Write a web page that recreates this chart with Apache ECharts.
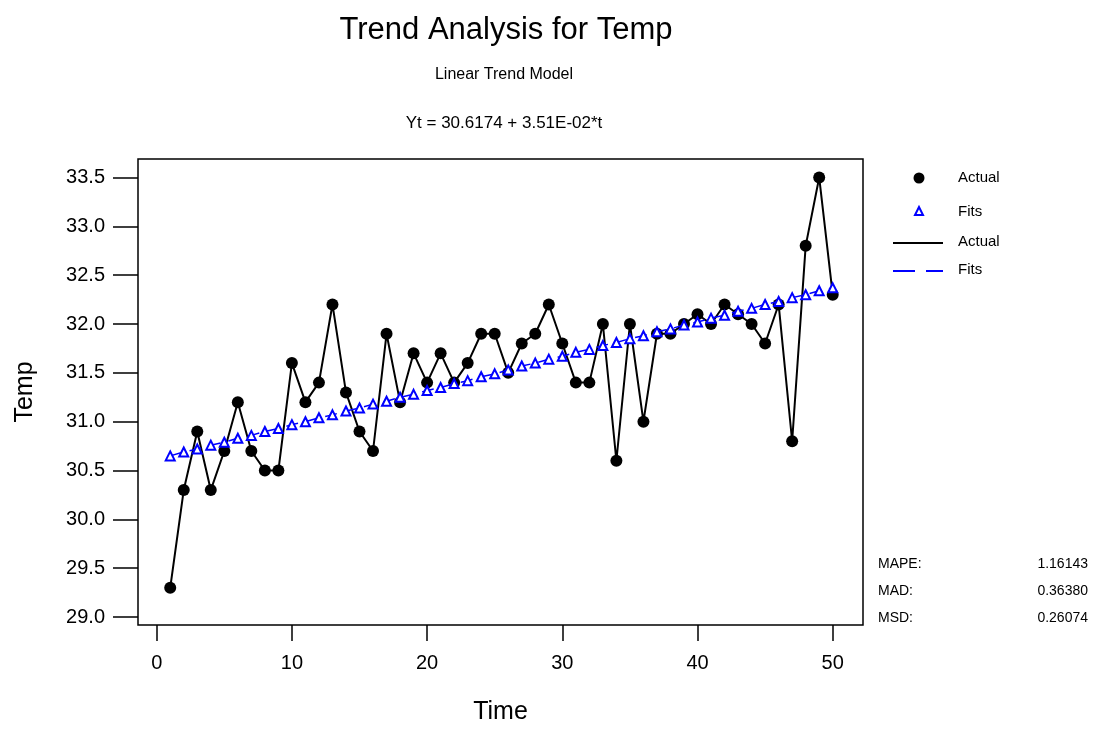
<!DOCTYPE html>
<html>
<head>
<meta charset="utf-8">
<script src="https://cdn.jsdelivr.net/npm/echarts@6/dist/echarts.min.js"></script>
<style>
  html, body { margin: 0; background: #ffffff; }
  #chart { width: 1093px; height: 730px; }
</style>
</head>
<body>
<div id="chart"></div>
<script>
const timeIdx = [1, 2, 3, 4, 5, 6, 7, 8, 9, 10, 11, 12, 13, 14, 15, 16, 17, 18, 19, 20,
  21, 22, 23, 24, 25, 26, 27, 28, 29, 30, 31, 32, 33, 34, 35, 36, 37, 38, 39, 40,
  41, 42, 43, 44, 45, 46, 47, 48, 49, 50]
const actualTemp = [29.3, 30.3, 30.9, 30.3, 30.7, 31.2, 30.7, 30.5, 30.5, 31.6,
  31.2, 31.4, 32.2, 31.3, 30.9, 30.7, 31.9, 31.2, 31.7, 31.4,
  31.7, 31.4, 31.6, 31.9, 31.9, 31.5, 31.8, 31.9, 32.2, 31.8,
  31.4, 31.4, 32.0, 30.6, 32.0, 31.0, 31.9, 31.9, 32.0, 32.1,
  32.0, 32.2, 32.1, 32.0, 31.8, 32.2, 30.8, 32.8, 33.5, 32.3]
const fitsTemp = [30.65, 30.69, 30.72, 30.76, 30.79, 30.83, 30.86, 30.90, 30.93, 30.97,
  31.00, 31.04, 31.07, 31.11, 31.14, 31.18, 31.21, 31.25, 31.28, 31.32,
  31.35, 31.39, 31.42, 31.46, 31.49, 31.53, 31.57, 31.60, 31.64, 31.67,
  31.71, 31.74, 31.78, 31.81, 31.85, 31.88, 31.92, 31.95, 31.99, 32.02,
  32.06, 32.09, 32.13, 32.16, 32.20, 32.23, 32.27, 32.30, 32.34, 32.37]
const xTicks = [0, 10, 20, 30, 40, 50]
const yTicks = [29.0, 29.5, 30.0, 30.5, 31.0, 31.5, 32.0, 32.5, 33.0, 33.5]
const accuracyNames = ['MAPE:', 'MAD:', 'MSD:']
const accuracyValues = ['1.16143', '0.36380', '0.26074']

const font = "'Liberation Sans Narrow', 'Liberation Sans', Arial, sans-serif"
const blue = '#0000ff'

const chart = echarts.init(document.getElementById('chart'))

// accuracy measures block, bottom right
const statText = []
accuracyNames.forEach((n, i) => {
  statText.push({
    type: 'text', left: 878, top: 557 + i * 27,
    style: { text: n, font: '14px ' + font, fill: '#000' }
  })
  statText.push({
    type: 'text', right: 5, top: 557 + i * 27,
    style: { text: accuracyValues[i], font: '14px ' + font, fill: '#000', textAlign: 'right' }
  })
})

chart.setOption({
  backgroundColor: '#ffffff',
  animation: false,
  title: [{
    text: 'Trend Analysis for Temp',
    left: 501, top: 10,
    textAlign: 'center',
    textStyle: { fontFamily: font, fontWeight: 'normal', fontSize: 31, color: '#000' }
  }, {
    text: 'Linear Trend Model',
    left: 499, top: 62,
    textAlign: 'center',
    textStyle: { fontFamily: font, fontWeight: 'normal', fontSize: 16, color: '#000' }
  }, {
    text: 'Yt = 30.6174 + 3.51E-02*t',
    left: 499, top: 110,
    textAlign: 'center',
    textStyle: { fontFamily: font, fontWeight: 'normal', fontSize: 17, color: '#000' }
  }],
  grid: {
    left: 138, right: 230, top: 159, bottom: 99,
    show: true,
    borderColor: '#000',
    borderWidth: 1.5
  },
  xAxis: {
    type: 'value',
    min: -1.383,
    max: 52.24,
    name: 'Time',
    nameLocation: 'middle',
    nameGap: 75,
    nameTextStyle: { fontFamily: font, fontSize: 25, color: '#000' },
    axisLine: { show: false, onZero: false },
    axisTick: { show: true, length: 16, customValues: xTicks, lineStyle: { color: '#000', width: 1.5 } },
    axisLabel: { customValues: xTicks, margin: 28, fontFamily: font, fontSize: 20, color: '#000' },
    splitLine: { show: false }
  },
  yAxis: {
    type: 'value',
    min: 28.919,
    max: 33.689,
    name: 'Temp',
    nameLocation: 'middle',
    nameGap: 100,
    nameTextStyle: { fontFamily: font, fontSize: 25, color: '#000' },
    axisLine: { show: false, onZero: false },
    axisTick: { show: true, length: 25, customValues: yTicks, lineStyle: { color: '#000', width: 1.5 } },
    axisLabel: {
      customValues: yTicks, margin: 33, fontFamily: font, fontSize: 20, color: '#000',
      formatter: v => v.toFixed(1)
    },
    splitLine: { show: false }
  },
  series: [{
    name: 'Fits',
    type: 'line',
    data: timeIdx.map((t, i) => [t, fitsTemp[i]]),
    symbol: 'triangle',
    symbolSize: 9,
    itemStyle: { color: '#ffffff', borderColor: blue, borderWidth: 2 },
    lineStyle: { color: blue, width: 1.5, type: [12, 8] },
    z: 3
  }, {
    name: 'Actual',
    type: 'line',
    data: timeIdx.map((t, i) => [t, actualTemp[i]]),
    symbol: 'circle',
    symbolSize: 12,
    itemStyle: { color: '#000' },
    lineStyle: { color: '#000', width: 2 },
    z: 2
  }],
  graphic: [
    { type: 'circle', shape: { cx: 919, cy: 178, r: 5.5 }, style: { fill: '#000' } },
    { type: 'polygon', shape: { points: [[919, 207], [915, 215], [923, 215]] }, style: { fill: '#fff', stroke: blue, lineWidth: 2 } },
    { type: 'line', shape: { x1: 893, y1: 243, x2: 943, y2: 243 }, style: { stroke: '#000', lineWidth: 2 } },
    { type: 'line', shape: { x1: 893, y1: 271, x2: 943, y2: 271 }, style: { stroke: blue, lineWidth: 2, lineDash: [22, 11] } },
    { type: 'text', left: 958, top: 170, style: { text: 'Actual', font: '15px ' + font, fill: '#000' } },
    { type: 'text', left: 958, top: 204, style: { text: 'Fits', font: '15px ' + font, fill: '#000' } },
    { type: 'text', left: 958, top: 234, style: { text: 'Actual', font: '15px ' + font, fill: '#000' } },
    { type: 'text', left: 958, top: 262, style: { text: 'Fits', font: '15px ' + font, fill: '#000' } }
  ].concat(statText)
})
</script>
</body>
</html>
